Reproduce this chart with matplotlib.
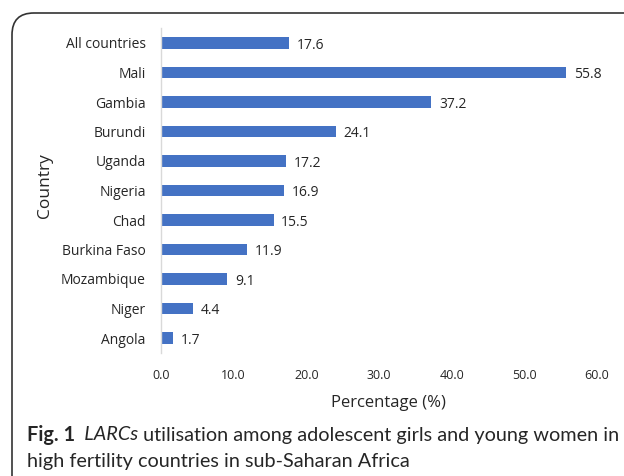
import matplotlib
matplotlib.use("Agg")
import matplotlib.pyplot as plt
from matplotlib.patches import FancyBboxPatch

countries = ["All countries", "Mali", "Gambia", "Burundi", "Uganda", "Nigeria",
             "Chad", "Burkina Faso", "Mozambique", "Niger", "Angola"]
values = [17.6, 55.8, 37.2, 24.1, 17.2, 16.9, 15.5, 11.9, 9.1, 4.4, 1.7]
xticks = [0, 10, 20, 30, 40, 50, 60]

W, H = 624, 476
plt.rcParams['font.family'] = ['Open Sans', 'DejaVu Sans']
fig = plt.figure(figsize=(W / 100, H / 100), dpi=100)
TXT = "#262626"

ax = fig.add_axes([161 / W, 1 - 352.75 / H, (597 - 161) / W, (352.75 - 28.25) / H])
ypos = list(range(len(countries)))
ax.barh(ypos, values, height=0.38, color="#4472C4")
ax.set_ylim(len(countries) - 0.5, -0.5)
ax.set_xlim(0, 60)
ax.set_yticks(ypos)
ax.set_yticklabels(countries, fontsize=10, color=TXT)
ax.set_xticks(xticks)
ax.set_xticklabels([f"{t:.1f}" for t in xticks], fontsize=9, color=TXT)
ax.tick_params(axis="y", length=0, pad=11)
ax.tick_params(axis="x", length=0, pad=12)
for s in ["top", "right", "bottom"]:
    ax.spines[s].set_visible(False)
ax.spines["left"].set_color("#d9d9d9")
ax.spines["left"].set_linewidth(1)
for y, v in zip(ypos, values):
    ax.annotate(f"{v:.1f}", (v, y), xytext=(5.5, -1.5), textcoords="offset points",
                va="center", ha="left", fontsize=10, color=TXT)

ax.set_xlabel("Percentage (%)", fontsize=12, color=TXT)
ax.xaxis.set_label_coords((388 - 161) / 436, 1 - (403 - 28.25) / 324.5)
ax.xaxis.label.set_va("center")
ax.set_ylabel("Country", fontsize=12.5, color=TXT)
ax.yaxis.set_label_coords((45 - 161) / 436, 1 - (186 - 28.25) / 324.5)
ax.yaxis.label.set_va("center")

box = FancyBboxPatch((12 / W, -0.2), 1.2, 1 - 13 / H + 0.2,
                     boxstyle="round,pad=0,rounding_size=0.035",
                     transform=fig.transFigure, fill=False,
                     edgecolor="#333333", linewidth=1.2, mutation_aspect=W / H)
fig.add_artist(box)

# caption, fitted to width of reference line
cap_parts = [("Fig. 1", "bold", "normal"), ("  LARCs", "normal", "italic"),
             (" utilisation among adolescent girls and young women in", "normal", "normal")]
cap_line2 = "high fertility countries in sub-Saharan Africa"
cap_font = ["Lato", "DejaVu Sans"]
renderer = fig.canvas.get_renderer()

def draw_caption(fs):
    arts = []
    x = 27
    for s, w, st in cap_parts:
        t = fig.text(x / W, 1 - 435 / H, s, fontsize=fs, fontweight=w, style=st,
                     family=cap_font, va="center", ha="left", color=TXT)
        arts.append(t)
        x = t.get_window_extent(renderer).x1
    t2 = fig.text(27 / W, 1 - 461 / H, cap_line2, fontsize=fs, family=cap_font,
                  va="center", ha="left", color=TXT)
    arts.append(t2)
    return arts, x

arts, xend = draw_caption(13)
scale = (617 - 27) / (xend - 27)
for a in arts:
    a.remove()
arts, xend = draw_caption(13 * scale)

fig.savefig("out.png", dpi=100)
